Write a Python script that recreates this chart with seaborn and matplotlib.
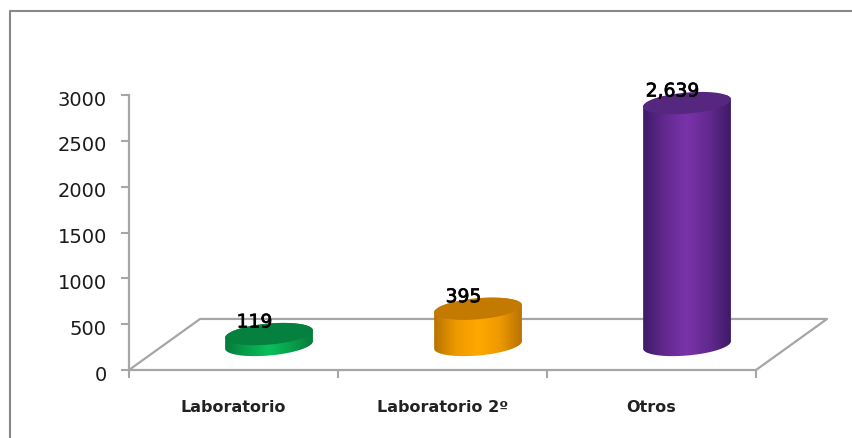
import numpy as np
import pandas as pd
import matplotlib
matplotlib.use("Agg")
import matplotlib.pyplot as plt
import matplotlib.patheffects as pe
from matplotlib.colors import LinearSegmentedColormap
from matplotlib.lines import Line2D
from matplotlib.patches import Polygon
from matplotlib.transforms import ScaledTranslation
import seaborn as sns

categories = ["Laboratorio", "Laboratorio 2º", "Otros"]
values = [119, 395, 2639]
yticks = [0, 500, 1000, 1500, 2000, 2500, 3000]

# side colours: edge, inner, middle
body_colors = [("#067a3c", "#08a04c", "#0abf5c"), ("#b87300", "#ee9900", "#ffa800"), ("#3e1b68", "#63298f", "#7a33aa")]
top_colors = ["#06803f", "#c47a00", "#56277f"]

W, H = 853, 439
sns.set_theme(style="white")
plt.rcParams["font.family"] = ["DejaVu Sans"]

fig = plt.figure(figsize=(W / 100, H / 100), dpi=100)
ax = fig.add_axes([129 / W, 1 - 371 / H, (756 - 129) / W, (371 - 96) / H])

df = pd.DataFrame({"cat": categories, "val": values})
sns.barplot(data=df, x="cat", y="val", hue="cat", palette=[c[2] for c in body_colors],
            width=0.42, legend=False, ax=ax)

gray = "#a6a6a6"
sns.despine(ax=ax)
for s in ["left", "bottom"]:
    ax.spines[s].set_color(gray)
    ax.spines[s].set_linewidth(1.6)
ax.set_yticks(yticks)
ax.tick_params(axis="y", labelcolor="#1a1a1a", labelsize=14, length=6, width=1.5, color=gray, pad=10, left=True)
ax.set_xticks([-0.5, 0.5, 1.5, 2.5])
ax.set_xticklabels([])
ax.tick_params(axis="x", length=6, width=1.5, color=gray, bottom=True)
ax.set_xlabel("")
ax.set_ylabel("")
for lab in ax.get_yticklabels():
    lab.set_transform(lab.get_transform() + ScaledTranslation(0, -1.5 / 72, fig.dpi_scale_trans))

# floor of the 3d chart
dx = 0.17
dy = 273
fx = [-0.5, -0.5 + 2 * dx, 2.5 + 2 * dx, 2.5]
fy = [0, 2 * dy * 1.02, 2 * dy * 1.02, 0]
ax.plot(fx, fy, color=gray, lw=1.6, clip_on=False, zorder=1)

a = 0.21
b = 115
tilt = 40
t = np.linspace(0, 2 * np.pi, 121)


def ring(cx, cy):
    return np.column_stack([cx + a * np.cos(t), cy + b * np.sin(t) + tilt * np.cos(t)])


for i, bar in enumerate(ax.patches):
    cx = bar.get_x() + bar.get_width() / 2 + dx
    y0 = dy
    y1 = dy + bar.get_height()
    low, up = ring(cx, y0), ring(cx, y1)
    outline = np.vstack([low[60:121], up[0:61]])
    body = Polygon(outline, closed=True, transform=ax.transData, fc="none", ec="none")
    ax.add_patch(body)
    bar.set_visible(False)
    edge, inner, mid = body_colors[i]
    cmap = LinearSegmentedColormap.from_list("c", [edge, inner, mid, inner, edge])
    im = ax.imshow(np.linspace(0, 1, 256).reshape(1, -1), cmap=cmap, aspect="auto",
                   extent=[cx - a, cx + a, y0 - b - tilt, y1 + b + tilt], zorder=3)
    im.set_clip_path(body)
    ax.add_patch(Polygon(up, closed=True, fc=top_colors[i], ec="none", zorder=4, clip_on=False))
    ax.text(cx - 0.07, y1 + 28, f"{values[i]:,}", ha="center", va="bottom", fontsize=13.5,
            color="black", zorder=5, clip_on=False,
            path_effects=[pe.withStroke(linewidth=0.5, foreground="black")])
    ax.text(i, -400, categories[i], ha="center", va="center", fontsize=11.5, fontweight="bold",
            color="#222222", clip_on=False)

ax.set_xlim(-0.5, 2.5)
ax.set_ylim(0, 3000)

# outer frame
fig.add_artist(Line2D([10 / W, 10 / W, 1], [0, 1 - 12 / H, 1 - 12 / H], color="#888888", lw=1.5))

fig.savefig("out.png", dpi=100)
